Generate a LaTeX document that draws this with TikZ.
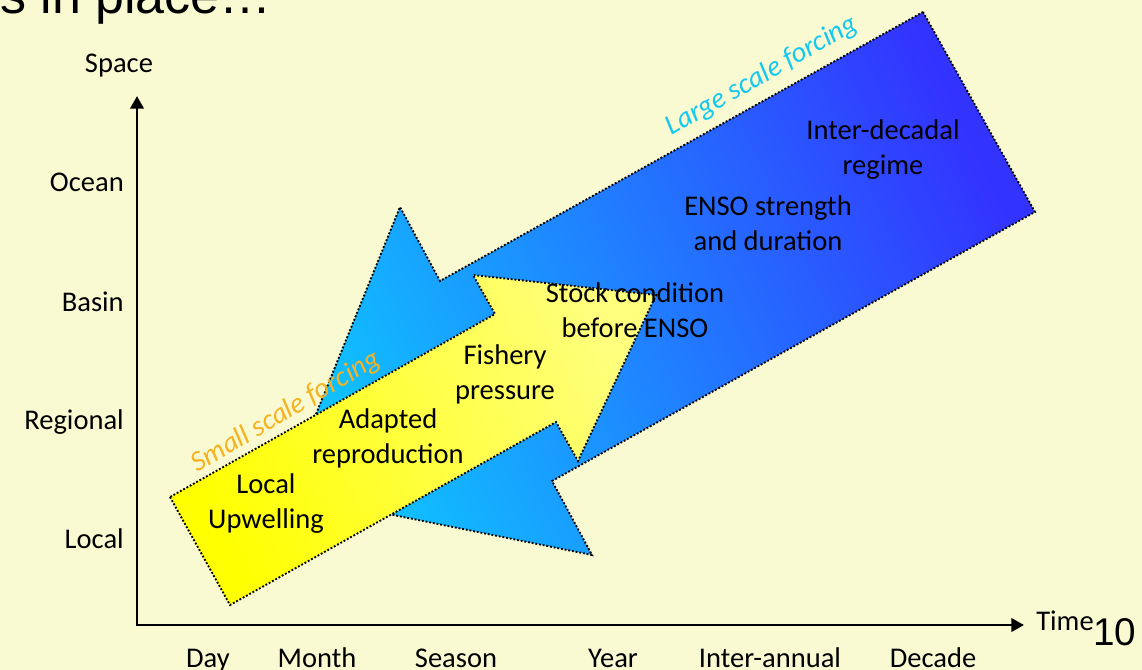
\documentclass[tikz,border=0pt]{standalone}
\usepackage{fontspec}
\setmainfont{Carlito}
\newfontfamily\arialfont{Liberation Sans}
\usetikzlibrary{arrows.meta}
\definecolor{slidebg}{RGB}{250,250,210}
\definecolor{bluelight}{RGB}{16,192,255}
\definecolor{bluemid}{RGB}{30,150,255}
\definecolor{bluedark}{RGB}{51,51,255}
\definecolor{yellowlight}{RGB}{255,255,125}
\definecolor{largecol}{RGB}{20,200,240}
\definecolor{smallcol}{RGB}{246,178,32}

\begin{document}
\begin{tikzpicture}[x=0.75pt,y=-0.75pt,
  >={Triangle[length=9.5pt,width=10pt]},
  lbl/.style={font=\fontsize{21.4}{26.2}\selectfont,align=center,inner sep=0pt},
  forcing/.style={font=\fontsize{21.4}{26.2}\selectfont\itshape,inner sep=0pt},
  dotborder/.style={draw=black,line width=1.4pt,dash pattern=on 1.4pt off 1.4pt}]
  \useasboundingbox (0,0) rectangle (1142,670);
  \fill[slidebg] (0,0) rectangle (1142,670);
  \node[font=\arialfont\fontsize{39}{44}\selectfont,anchor=base east,inner sep=0pt] (title) at (272,14) {s in place…};
  \node[font=\arialfont\fontsize{29}{34}\selectfont,anchor=base west,inner sep=0pt] (pagenum) at (1093,645) {10};

  \shade[dotborder,top color=bluelight,middle color=bluemid,bottom color=bluedark,shading angle=115]
    (923,12) -- (1035,212) -- (552,481) -- (592,555) -- (284,493) -- (400,207) -- (440,281) -- cycle;
  \shade[dotborder,top color=yellow,bottom color=yellowlight,shading angle=115]
    (170,497) -- (230,605) -- (556,422) -- (578,461) -- (656,295) -- (473,275) -- (495,314) -- cycle;

  \coordinate (origin) at (137,625);
  \coordinate (spacetop) at (137,96);
  \coordinate (timeend) at (1024,625);
  \draw[<->,line width=2.2pt] (spacetop) -- (origin) -- (timeend);

  \node[lbl,anchor=base] (space) at (119,73) {Space};
  \node[lbl,anchor=base west] (time) at (1036,630) {Time};
  \node[lbl,anchor=base east] (ocean) at (124,192) {Ocean};
  \node[lbl,anchor=base east] (basin) at (124,311) {Basin};
  \node[lbl,anchor=base east] (regional) at (124,429) {Regional};
  \node[lbl,anchor=base east] (local) at (124,548) {Local};
  \node[lbl,anchor=base] (day) at (208,667) {Day};
  \node[lbl,anchor=base] (month) at (317,667) {Month};
  \node[lbl,anchor=base] (season) at (456,667) {Season};
  \node[lbl,anchor=base] (year) at (613,667) {Year};
  \node[lbl,anchor=base] (interannual) at (770,667) {Inter-annual};
  \node[lbl,anchor=base] (decade) at (933,667) {Decade};

  \node[lbl] (interdecadal) at (883,150) {Inter-decadal\\regime};
  \node[lbl] (enso) at (768,223) {ENSO strength\\and duration};
  \node[lbl] (stock) at (635,310) {Stock condition\\before ENSO};
  \node[lbl] (fishery) at (505,374) {Fishery\\pressure};
  \node[lbl] (adapted) at (388,438) {Adapted\\reproduction};
  \node[lbl] (upwelling) at (266,504) {Local\\Upwelling};

  \node[forcing,text=largecol,rotate=29.6] (large) at (762,76) {Large scale forcing};
  \node[forcing,text=smallcol,rotate=30.5] (small) at (286,412) {Small scale forcing};
\end{tikzpicture}
\end{document}
